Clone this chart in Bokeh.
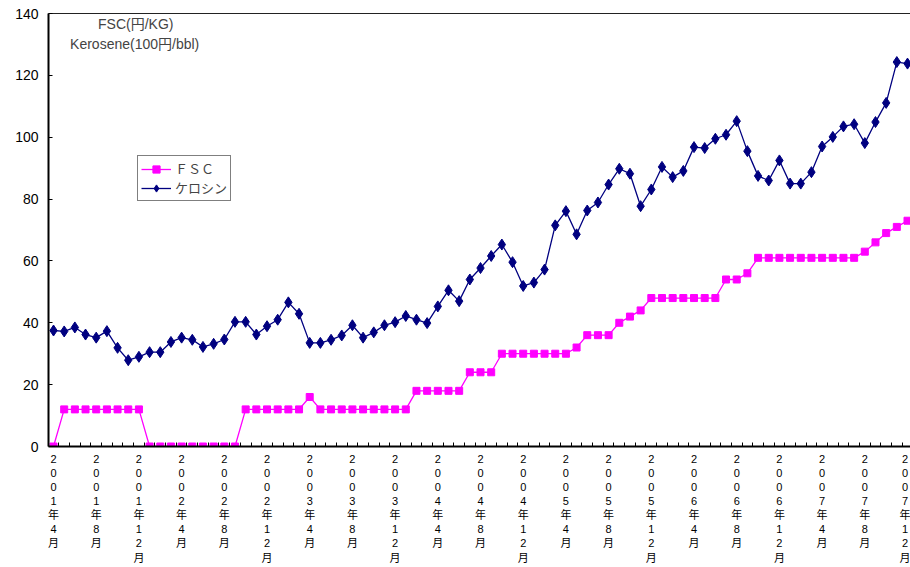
from bokeh.plotting import figure
from bokeh.models import FixedTicker, LinearAxis, Legend, LegendItem, Label, Range1d
from bokeh.embed import file_html
from bokeh.resources import INLINE

# Monthly data, 2001年4月 .. 2007年12月 (81 months)
fsc = [0,
       12, 12, 12, 12, 12, 12, 12, 12,
       0, 0, 0, 0, 0, 0, 0, 0, 0,
       12, 12, 12, 12, 12, 12,
       16,
       12, 12, 12, 12, 12, 12, 12, 12, 12,
       18, 18, 18, 18, 18,
       24, 24, 24,
       30, 30, 30, 30, 30, 30, 30,
       32,
       36, 36, 36,
       40, 42, 44,
       48, 48, 48, 48, 48, 48, 48,
       54, 54, 56,
       61, 61, 61, 61, 61, 61, 61, 61, 61, 61,
       63, 66, 69, 71, 73]

kerosene = [37.5, 37.2, 38.5, 36.2, 35.2, 37.3, 31.9, 27.9, 29.0, 30.5,
            30.5, 33.8, 35.2, 34.5, 32.2, 33.2, 34.6, 40.3, 40.3, 36.2,
            38.9, 41.0, 46.6, 42.9, 33.5, 33.5, 34.5, 35.9, 39.2, 35.2,
            36.9, 39.2, 40.2, 42.2, 41.0, 39.9, 45.3, 50.5, 47.0, 54.0,
            57.7, 61.6, 65.3, 59.6, 51.9, 53.0, 57.2, 71.5, 76.1, 68.6,
            76.3, 78.9, 84.7, 89.8, 88.2, 77.7, 83.1, 90.4, 87.1, 89.1,
            96.8, 96.5, 99.5, 100.8, 105.2, 95.5, 87.5, 86.0, 92.5, 85.0,
            85.0, 88.7, 97.0, 100.1, 103.5, 104.2, 98.1, 104.9, 111.1, 124.3,
            123.8]

tick_labels = ["2001年4月", "2001年8月", "2001年12月",
               "2002年4月", "2002年8月", "2002年12月",
               "2003年4月", "2003年8月", "2003年12月",
               "2004年4月", "2004年8月", "2004年12月",
               "2005年4月", "2005年8月", "2005年12月",
               "2006年4月", "2006年8月", "2006年12月",
               "2007年4月", "2007年8月", "2007年12月"]
y_ticks = [0, 20, 40, 60, 80, 100, 120, 140]

x = list(range(len(kerosene)))
FONT = "Liberation Sans, Noto Sans CJK JP"

p = figure(width=910, height=567, output_backend="svg", toolbar_location=None,
           x_range=Range1d(-0.47, 80.28), y_range=Range1d(0, 140),
           min_border_left=48, min_border_right=0, min_border_top=13,
           min_border_bottom=121)
p.xgrid.visible = False
p.ygrid.visible = False
p.outline_line_color = None
p.background_fill_color = "white"
p.border_fill_color = "white"

# x axis
tick_pos = list(range(0, len(kerosene), 4))
p.xaxis.ticker = FixedTicker(ticks=tick_pos,
                             minor_ticks=[i + 0.5 for i in range(-1, len(kerosene))])
p.xaxis.major_label_overrides = {t: "\n".join(list(lbl)) for t, lbl in zip(tick_pos, tick_labels)}
p.xaxis.major_tick_in = 0
p.xaxis.major_tick_out = 0
p.xaxis.minor_tick_in = 4
p.xaxis.minor_tick_out = 0
p.xaxis.minor_tick_line_color = "black"
p.xaxis.axis_line_width = 2
p.xaxis.axis_line_color = "black"
p.xaxis.major_label_text_font = FONT
p.xaxis.major_label_text_font_size = "11px"
p.xaxis.major_label_text_line_height = 1.18
p.xaxis.major_label_text_color = "black"
p.xaxis.major_label_standoff = 6

# y axis
p.yaxis.ticker = FixedTicker(ticks=y_ticks)
p.yaxis.major_tick_in = 4
p.yaxis.major_tick_out = 0
p.yaxis.minor_tick_line_color = None
p.yaxis.axis_line_width = 2
p.yaxis.axis_line_color = "black"
p.yaxis.major_tick_line_color = "black"
p.yaxis.major_label_text_font = FONT
p.yaxis.major_label_text_font_size = "14px"
p.yaxis.major_label_text_color = "black"
p.yaxis.major_label_standoff = 10

# top border
top = LinearAxis(ticker=FixedTicker(ticks=[]), major_label_text_font_size="0px",
                 major_tick_out=0, major_tick_in=0, minor_tick_out=0, minor_tick_in=0,
                 axis_line_color="#222222", axis_line_width=1)
p.add_layout(top, "above")

r_fsc_l = p.line(x, fsc, line_color="#FF00FF", line_width=1.3)
r_fsc_m = p.scatter(x, fsc, marker="square", size=7, fill_color="#FF00FF",
                    line_color="#FF00FF")
r_ker_l = p.line(x, kerosene, line_color="#000080", line_width=1.3)
r_ker_m = p.scatter(x, kerosene, marker="diamond", size=11, fill_color="#000080",
                    line_color="#000080")

legend = Legend(items=[LegendItem(label="ＦＳＣ", renderers=[r_fsc_l, r_fsc_m]),
                       LegendItem(label="ケロシン", renderers=[r_ker_l, r_ker_m])],
                location=(89, 245), border_line_color="black", border_line_width=1,
                background_fill_color="white", background_fill_alpha=1.0,
                padding=3, spacing=0, margin=0, glyph_width=30, glyph_height=18,
                label_height=18, label_standoff=4, label_text_font_size="13px",
                label_text_font="Noto Sans CJK JP")
p.add_layout(legend)

p.add_layout(Label(x=7.7, y=136.7, text="FSC(円/KG)", text_align="center",
                   text_baseline="middle", text_font=FONT, text_font_size="14px"))
p.add_layout(Label(x=7.6, y=130.2, text="Kerosene(100円/bbl)", text_align="center",
                   text_baseline="middle", text_font=FONT, text_font_size="14px"))

open("out.html", "w").write(file_html(p, INLINE))
